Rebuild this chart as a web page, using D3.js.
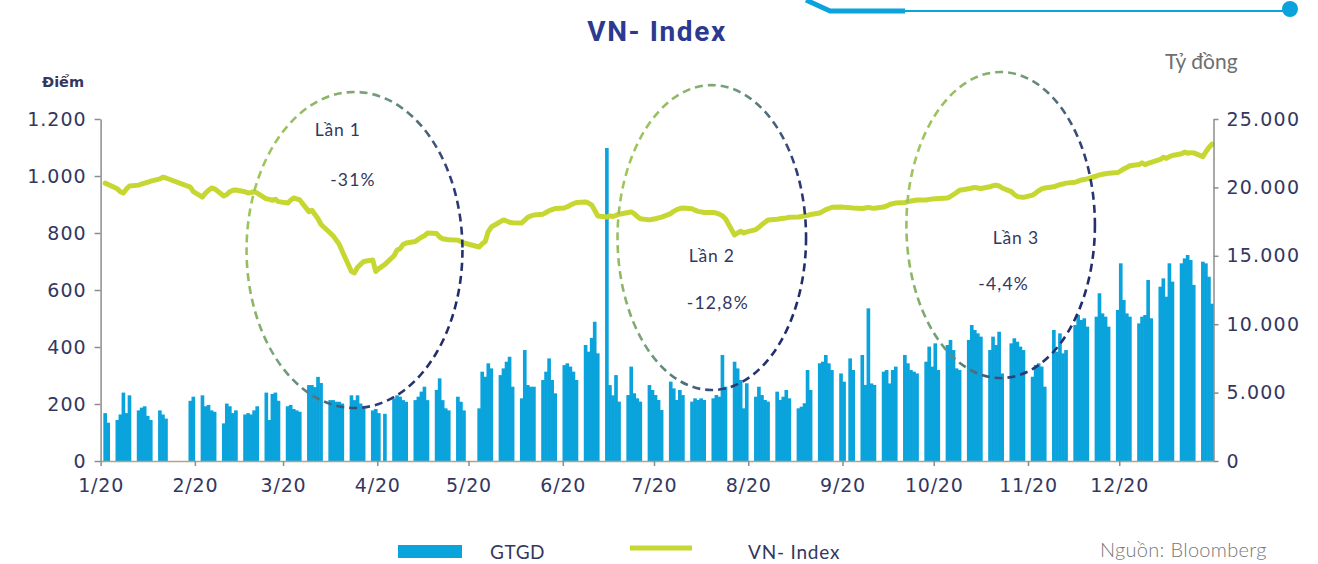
<!DOCTYPE html>
<html><head><meta charset="utf-8">
<script src="https://cdn.jsdelivr.net/npm/d3@7"></script>
<style>
html,body{margin:0;padding:0;background:#fff;overflow:hidden}
svg{display:block}
</style></head><body>
<svg id="chart" width="1318" height="564"></svg>
<script>
// ---------------- DATA ----------------
const monthLabels = ["1/20","2/20","3/20","4/20","5/20","6/20","7/20","8/20","9/20","10/20","11/20","12/20"];
const leftTicks = [0, 200, 400, 600, 800, 1000, 1200];
const leftTickLabels = ["0", "200", "400", "600", "800", "1.000", "1.200"];
const rightTicks = [0, 5000, 10000, 15000, 20000, 25000];
const rightTickLabels = ["0", "5.000", "10.000", "15.000", "20.000", "25.000"];
// market holidays (weekdays without trading) in 2020
const holidays = ["2020-01-01","2020-01-23","2020-01-24","2020-01-27","2020-01-28","2020-01-29",
                  "2020-04-02","2020-04-30","2020-05-01","2020-09-02"];
// GTGD (tỷ đồng), one inner array per trading week
const gtgdWeeks = [
  [3500, 2800],
  [3000, 3400, 5000, 3500, 4800],
  [3700, 3900, 4000, 3300, 3000],
  [3700, 3400, 3100],
  [4400, 4700],
  [4800, 4000, 4100, 3700, 3600],
  [2750, 4200, 4000, 3500, 3700],
  [3400, 3500, 3400, 3700, 4000],
  [5000, 3000, 4900, 5000, 4400],
  [4000, 4100, 3800, 3700, 3600],
  [5550, 5550, 5400, 6150, 5700],
  [4450, 4450, 4330, 4330, 4200],
  [4800, 4450, 4800, 4200, 4000],
  [3700, 3800, 3500, 3450],
  [4570, 4800, 4700, 4450, 4330],
  [4450, 4700, 5070, 5430, 4450],
  [5200, 6040, 4450, 3850, 3700],
  [4700, 4330, 3700],
  [3850, 6530, 6160, 7140, 6770],
  [6280, 6770, 7260, 7620, 5430],
  [4580, 8110, 5550, 5430, 5430],
  [5920, 6530, 7500, 5920, 4950],
  [7010, 7140, 6900, 6530, 5920],
  [8480, 7990, 9000, 10180, 7870],
  [22880, 5550, 4800, 6280, 4340],
  [4820, 6900, 4950, 4580, 4340],
  [5550, 5190, 4820, 4460, 3730],
  [5800, 5310, 4460, 5190, 4820],
  [4340, 4580, 4460, 4580, 4460],
  [4580, 4820, 4700, 7750, 5430],
  [7260, 6770, 5920, 3850, 5680],
  [4700, 5430, 4820, 4460, 4340],
  [5070, 4460, 4700, 5190, 4580],
  [3850, 3970, 4220, 6650, 5190],
  [7140, 7260, 7750, 7140, 6650],
  [6400, 5800, 7500, 6650],
  [7750, 5560, 11160, 5670, 5560],
  [6530, 6650, 5670, 6650, 6900],
  [7750, 7140, 6650, 6530, 6400],
  [7260, 8360, 6900, 8600, 6650],
  [8480, 8850, 8110, 6770, 6650],
  [8850, 9940, 9580, 9330, 9090],
  [8110, 9090, 8480, 9450, 6400],
  [8600, 8970, 8720, 8360, 8110],
  [6160, 7020, 7140, 6900, 5430],
  [9580, 7990, 9330, 7870, 8110],
  [9940, 10670, 10310, 10430, 9820],
  [10550, 12260, 10790, 10550, 9820],
  [11040, 14450, 11770, 10790, 10550],
  [10060, 10550, 10670, 13230, 10430],
  [12740, 13350, 12010, 14450, 13110],
  [14450, 14810, 15060, 14690, 12870],
  [14570, 14450, 13470, 11500]
];
// VN-Index (điểm), same trading weeks
const vnIndexWeeks = [
  [975, 970],
  [955, 945, 940, 955, 965],
  [968, 972, 975, 978, 982],
  [990, 996, 993],
  [961, 945],
  [926, 940, 950, 958, 955],
  [930, 935, 945, 950, 951],
  [945, 940, 942, 945, 940],
  [920, 918, 915, 918, 910],
  [905, 915, 923, 920, 916],
  [875, 880, 865, 850, 830],
  [800, 790, 775, 760, 735],
  [665, 660, 680, 690, 700],
  [705, 665, 675, 690],
  [720, 740, 745, 760, 765],
  [770, 778, 785, 790, 800],
  [798, 786, 780, 778, 776],
  [775, 770, 765],
  [751, 762, 770, 805, 821],
  [840, 846, 842, 838, 836],
  [835, 845, 855, 860, 863],
  [866, 872, 878, 882, 886],
  [888, 892, 898, 903, 907],
  [909, 905, 898, 880, 860],
  [856, 860, 858, 862, 866],
  [872, 874, 868, 858, 850],
  [846, 848, 850, 853, 856],
  [868, 876, 882, 886, 888],
  [885, 880, 876, 874, 872],
  [872, 870, 866, 860, 850],
  [793, 800, 806, 800, 804],
  [812, 820, 830, 838, 846],
  [848, 850, 852, 853, 855],
  [856, 858, 860, 862, 865],
  [870, 876, 882, 886, 890],
  [891, 890, 889, 888],
  [886, 888, 890, 888, 887],
  [891, 895, 900, 903, 905],
  [907, 910, 912, 914, 916],
  [916, 918, 919, 920, 921],
  [923, 928, 935, 942, 950],
  [955, 958, 960, 958, 956],
  [962, 966, 968, 965, 958],
  [945, 935, 928, 926, 925],
  [933, 940, 948, 955, 958],
  [962, 966, 970, 972, 975],
  [978, 982, 986, 988, 990],
  [1000, 1004, 1006, 1008, 1010],
  [1012, 1018, 1025, 1030, 1036],
  [1040, 1046, 1040, 1044, 1048],
  [1058, 1066, 1062, 1068, 1072],
  [1078, 1084, 1080, 1082, 1081],
  [1068, 1085, 1100, 1112]
];
// drawdown annotations (text)
const waveLabels = ["Lần 1", "Lần 2", "Lần 3"];
const waveChanges = ["-31%", "-12,8%", "-4,4%"];

// ---------------- LAYOUT ----------------
const plot = {left: 100.6, right: 1213.5, top: 119, bottom: 461};
const COL = {bar: "#0aa3dc", line: "#c6d731", text: "#33375f", title: "#2b3990", axis: "#8c8c8c", gray: "#6e6e6e"};
const FONT = "'DejaVu Sans', 'Noto Sans', sans-serif";

const svg = d3.select("#chart");
const parse = d3.timeParse("%Y-%m-%d");
const fmt = d3.timeFormat("%Y-%m-%d");
const start = new Date(2020, 0, 1), end = new Date(2021, 0, 1);

const x = d3.scaleTime().domain([start, end]).range([plot.left, plot.right]);
const yL = d3.scaleLinear().domain([0, 1200]).range([plot.bottom, plot.top]);
const yR = d3.scaleLinear().domain([0, 25000]).range([plot.bottom, plot.top]);

const holidaySet = new Set(holidays);
const tradingDays = d3.timeDay.range(start, end)
  .filter(d => d.getDay() !== 0 && d.getDay() !== 6 && !holidaySet.has(fmt(d)));
const gtgd = gtgdWeeks.flat();
const vni = vnIndexWeeks.flat();
const n = Math.min(tradingDays.length, gtgd.length, vni.length);
const rows = d3.range(n).map(i => ({date: tradingDays[i], g: gtgd[i], v: vni[i]}));
const dayW = x(new Date(2020, 0, 2)) - x(new Date(2020, 0, 1));

// decoration at top
const deco = svg.append("g");
deco.append("path").attr("d", `M806,0 L830,11 L905,11`).attr("fill", "none")
  .attr("stroke", COL.bar).attr("stroke-width", 5).attr("stroke-linejoin", "round");
deco.append("path").attr("d", `M905,11 L1288,11`).attr("fill", "none")
  .attr("stroke", COL.bar).attr("stroke-width", 2.2);
deco.append("circle").attr("cx", 1290).attr("cy", 9).attr("r", 8).attr("fill", COL.bar);

// title
svg.append("text").attr("x", 657).attr("y", 41).attr("text-anchor", "middle")
  .attr("font-family", "'Roboto', 'Open Sans', sans-serif").attr("font-weight", 700)
  .attr("font-size", 28).attr("letter-spacing", 1.6).attr("fill", COL.title).text("VN- Index");

// axis titles
svg.append("text").attr("x", 42).attr("y", 87).attr("font-family", FONT).attr("font-size", 14.5)
  .attr("font-weight", 700).attr("fill", COL.text).text("Điểm");
svg.append("text").attr("x", 1165).attr("y", 69).attr("font-family", "'Lato', sans-serif").attr("font-size", 21)
  .attr("fill", COL.gray).text("Tỷ đồng");

// bars
svg.append("g").selectAll("rect").data(rows).join("rect")
  .attr("x", d => x(d.date) - 0.3)
  .attr("width", dayW + 0.6)
  .attr("y", d => yR(d.g))
  .attr("height", d => yR(0) - yR(d.g))
  .attr("fill", COL.bar);

// line
const line = d3.line().x(d => x(d.date) + dayW / 2).y(d => yL(d.v));
svg.append("path").datum(rows).attr("d", line).attr("fill", "none")
  .attr("stroke", COL.line).attr("stroke-width", 5).attr("stroke-linejoin", "round").attr("stroke-linecap", "round");

// axes
function styleAxis(g, ls) {
  g.select(".domain").attr("stroke", COL.axis).attr("stroke-width", 1.5);
  g.selectAll(".tick line").attr("stroke", COL.axis).attr("stroke-width", 1.5);
  g.selectAll("text").attr("font-family", FONT).attr("font-size", 19).attr("fill", COL.text)
    .attr("letter-spacing", ls);
}
svg.append("g").attr("transform", `translate(${plot.left},0)`)
  .call(d3.axisLeft(yL).tickValues(leftTicks).tickSize(6).tickSizeOuter(0).tickPadding(8)
    .tickFormat((d, i) => leftTickLabels[i]))
  .call(g => styleAxis(g, 1));
svg.append("g").attr("transform", `translate(${plot.right},0)`)
  .call(d3.axisRight(yR).tickValues(rightTicks).tickSize(5).tickSizeOuter(0).tickPadding(8)
    .tickFormat((d, i) => rightTickLabels[i]))
  .call(g => styleAxis(g, 1.2));
const months = d3.timeMonth.range(start, end);
svg.append("g").attr("transform", `translate(0,${plot.bottom})`)
  .call(d3.axisBottom(x).tickValues(months).tickSize(5).tickSizeOuter(0).tickPadding(13)
    .tickFormat((d, i) => monthLabels[i]))
  .call(g => styleAxis(g, 0.8))
  .call(g => g.select(".domain").attr("stroke", "#b9a08c"));

// drawdown ellipses (date / value extents, placed through the scales)
const waves = [
  {from: "2020-02-18", to: "2020-04-29", top: 1295, bottom: 186, lx: "2020-03-19", ly: 1140, cx2: "2020-03-24", cy2: 966},
  {from: "2020-06-19", to: "2020-08-20", top: 1319, bottom: 249, lx: "2020-07-20", ly: 697, cx2: "2020-07-22", cy2: 535},
  {from: "2020-09-22", to: "2020-11-23", top: 1365, bottom: 291, lx: "2020-10-28", ly: 760, cx2: "2020-10-24", cy2: 600}
];
const defs = svg.append("defs");
const grad = defs.append("linearGradient").attr("id", "ellGrad")
  .attr("x1", "0").attr("y1", "0.25").attr("x2", "1").attr("y2", "0.75");
grad.append("stop").attr("offset", "0").attr("stop-color", "#a6cc55");
grad.append("stop").attr("offset", "0.4").attr("stop-color", "#6f9c7c");
grad.append("stop").attr("offset", "0.75").attr("stop-color", "#2f3f78");
grad.append("stop").attr("offset", "1").attr("stop-color", "#1e2766");

const wg = svg.append("g");
waves.forEach((w, i) => {
  const x0 = x(parse(w.from)), x1 = x(parse(w.to));
  const y0 = yL(w.top), y1 = yL(w.bottom);
  wg.append("ellipse").attr("cx", (x0 + x1) / 2).attr("cy", (y0 + y1) / 2)
    .attr("rx", (x1 - x0) / 2).attr("ry", (y1 - y0) / 2)
    .attr("fill", "none").attr("stroke", "url(#ellGrad)").attr("stroke-width", 2.6)
    .attr("stroke-dasharray", "8 5");
  wg.append("text").attr("x", x(parse(w.lx))).attr("y", yL(w.ly)).attr("text-anchor", "middle")
    .attr("font-family", "'Lato', sans-serif").attr("font-size", 17.5).attr("letter-spacing", 0.8)
    .attr("fill", COL.text).text(waveLabels[i]);
  wg.append("text").attr("x", x(parse(w.cx2))).attr("y", yL(w.cy2)).attr("text-anchor", "middle")
    .attr("font-family", "'Lato', sans-serif").attr("font-size", 17.5).attr("letter-spacing", 1.2)
    .attr("fill", COL.text).text(waveChanges[i]);
});

// legend
const lg = svg.append("g");
lg.append("rect").attr("x", 398).attr("y", 545).attr("width", 64).attr("height", 13).attr("fill", COL.bar);
lg.append("text").attr("x", 490).attr("y", 559).attr("font-family", "'Lato', sans-serif").attr("font-size", 19)
  .attr("letter-spacing", 0.6).attr("fill", COL.text).text("GTGD");
lg.append("line").attr("x1", 630).attr("x2", 692).attr("y1", 548).attr("y2", 548)
  .attr("stroke", COL.line).attr("stroke-width", 5);
lg.append("text").attr("x", 748).attr("y", 559).attr("font-family", "'Lato', sans-serif").attr("font-size", 19)
  .attr("letter-spacing", 0.8).attr("fill", COL.text).text("VN- Index");
svg.append("text").attr("x", 1100).attr("y", 557).attr("font-family", "'Lato', sans-serif").attr("font-size", 20)
  .attr("font-weight", 300).attr("letter-spacing", 0.3).attr("fill", "#777").text("Nguồn: Bloomberg");
</script>
</body></html>
